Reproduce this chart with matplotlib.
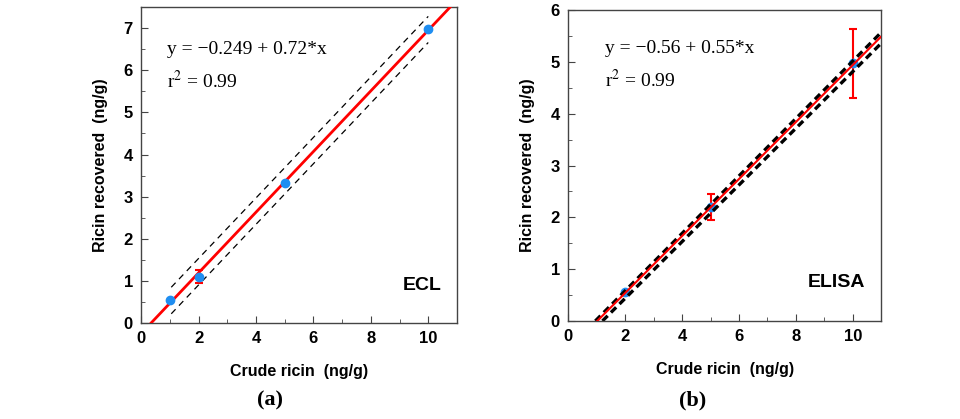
import matplotlib
matplotlib.use("Agg")
import matplotlib.pyplot as plt
from matplotlib.ticker import MultipleLocator

# panel (a): ECL
ecl_x = [1, 2, 5, 10]
ecl_y = [0.55, 1.1, 3.33, 6.97]
ecl_err = [0.0, 0.15, 0.0, 0.0]
ecl_fit = (-0.249, 0.72)
ecl_fit_x = [0.35, 10.8]
ecl_band_x = [1.05, 10.0]
ecl_band_hi = [0.85, 7.28]
ecl_band_lo = [0.22, 6.66]

# panel (b): ELISA
elisa_x = [2, 5, 10]
elisa_y = [0.55, 2.2, 4.97]
elisa_err = [0.0, 0.25, 0.66]
elisa_fit = (-0.56, 0.55)
elisa_fit_x = [1.02, 11.0]
elisa_band_hi_x = [0.95, 11.0]
elisa_band_hi = [0.0, 5.57]
elisa_band_lo_x = [1.2, 11.0]
elisa_band_lo = [0.0, 5.36]

SANS = "Liberation Sans"
SERIF = "Liberation Serif"
BLUE = "#1f8ef1"
RED = "#ff0000"

plt.rcParams["mathtext.fontset"] = "stix"


def style_axes(ax, ymax):
    ax.set_xlim(0, 11)
    ax.set_ylim(0, ymax)
    ax.xaxis.set_major_locator(MultipleLocator(2))
    ax.xaxis.set_minor_locator(MultipleLocator(1))
    ax.yaxis.set_major_locator(MultipleLocator(1))
    ax.yaxis.set_minor_locator(MultipleLocator(0.5))
    ax.tick_params(which="both", direction="in", top=False, right=False, color="#444444")
    ax.tick_params(which="major", length=5, labelsize=12, pad=6)
    ax.tick_params(which="minor", length=3)
    for lab in ax.get_xticklabels() + ax.get_yticklabels():
        lab.set_fontfamily(SANS)
        lab.set_fontweight("bold")
    for sp in ax.spines.values():
        sp.set_color("#444444")
        sp.set_linewidth(1.0)
    ax.set_xlabel("Crude ricin  (ng/g)", fontsize=11.5, fontweight="bold", family=SANS, labelpad=13)
    ax.set_ylabel("Ricin recovered  (ng/g)", fontsize=11.5, fontweight="bold", family=SANS, labelpad=11)


fig = plt.figure(figsize=(9.6, 4.19), dpi=100)
ax1 = fig.add_axes([0.147, 0.229, 0.329, 0.754])
ax2 = fig.add_axes([0.592, 0.234, 0.326, 0.742])

# (a)
b0, b1 = ecl_fit
ax1.plot(ecl_fit_x, [b0 + b1 * x for x in ecl_fit_x], color=RED, lw=2, zorder=3)
ax1.plot(ecl_band_x, ecl_band_hi, color="black", lw=0.9, ls=(0, (5, 4)), zorder=2)
ax1.plot(ecl_band_x, ecl_band_lo, color="black", lw=0.9, ls=(0, (5, 4)), zorder=2)
ax1.errorbar(ecl_x, ecl_y, yerr=ecl_err, fmt="o", color=BLUE, ms=6,
             ecolor=RED, elinewidth=1.5, capsize=3, capthick=1.5, zorder=4)
ax1.text(0.9, 6.5, "y = \u22120.249 + 0.72*x", family=SERIF, fontsize=14, va="center")
ax1.text(0.9, 5.75, "r$^2$ = 0.99", family=SERIF, fontsize=14, va="center")
ax1.text(10.45, 0.9, "ECL", family=SANS, fontweight="bold", fontsize=14, ha="right", va="center")
style_axes(ax1, 7.5)

# (b)
b0, b1 = elisa_fit
ax2.plot(elisa_band_hi_x, elisa_band_hi, color="black", lw=2.4, ls=(0, (2.2, 1.4)), zorder=2)
ax2.plot(elisa_band_lo_x, elisa_band_lo, color="black", lw=2.4, ls=(0, (2.2, 1.4)), zorder=2)
ax2.plot(elisa_fit_x, [b0 + b1 * x for x in elisa_fit_x], color=RED, lw=1.5, zorder=3)
ax2.errorbar(elisa_x, elisa_y, yerr=elisa_err, fmt="o", color=BLUE, ms=6,
             ecolor=RED, elinewidth=1.5, capsize=3, capthick=1.5, zorder=1)
ax2.text(1.3, 5.25, "y = \u22120.56 + 0.55*x", family=SERIF, fontsize=14, va="center")
ax2.text(1.3, 4.65, "r$^2$ = 0.99", family=SERIF, fontsize=14, va="center")
ax2.text(10.45, 0.75, "ELISA", family=SANS, fontweight="bold", fontsize=14, ha="right", va="center")
style_axes(ax2, 6)

fig.text(0.281, 0.033, "(a)", family=SERIF, fontweight="bold", fontsize=16, ha="center")
fig.text(0.721, 0.033, "(b)", family=SERIF, fontweight="bold", fontsize=16, ha="center")

fig.savefig("out.png", dpi=100)
